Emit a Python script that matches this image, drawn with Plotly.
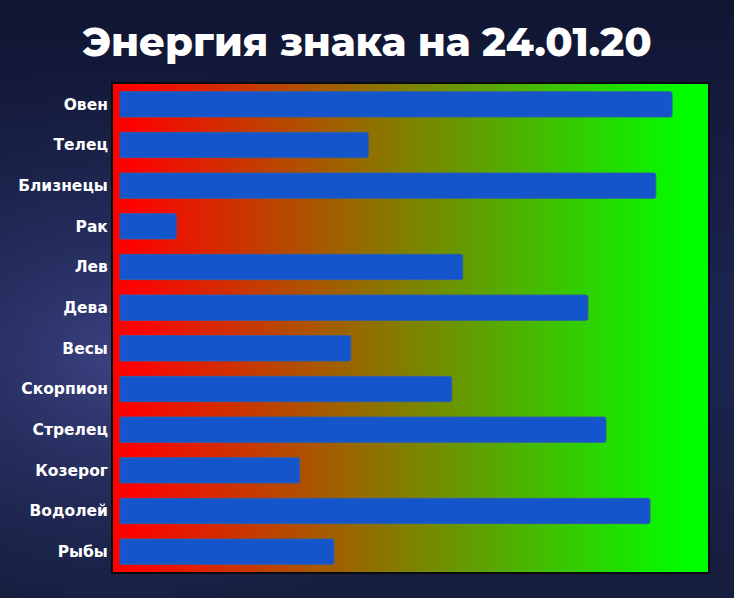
import base64
import plotly.graph_objects as go

# Data
signs = ["Овен", "Телец", "Близнецы", "Рак", "Лев", "Дева", "Весы",
         "Скорпион", "Стрелец", "Козерог", "Водолей", "Рыбы"]
energy = [95.2, 42.8, 92.4, 9.7, 59.1, 80.7, 39.8, 57.2, 83.8, 31.0, 91.4, 36.9]
title_text = "Энергия знака на 24.01.20"

# background gradient (decoration): two stops, left and right
grad_x = [1.0, 98.0]
grad_z = [[0, 1] for _ in signs]

bg_svg = """<svg xmlns='http://www.w3.org/2000/svg' width='734' height='598' preserveAspectRatio='none'>
<defs>
<radialGradient id='g1' cx='0.15' cy='0.55' r='0.45'>
<stop offset='0' stop-color='#3f4588' stop-opacity='0.9'/>
<stop offset='1' stop-color='#1a2246' stop-opacity='0'/>
</radialGradient>
<linearGradient id='g0' x1='0' y1='0' x2='0' y2='1'>
<stop offset='0' stop-color='#0f1530'/>
<stop offset='0.5' stop-color='#1c2552'/>
<stop offset='1' stop-color='#141b38'/>
</linearGradient>
</defs>
<rect width='734' height='598' fill='url(#g0)'/>
<rect width='734' height='598' fill='url(#g1)'/>
</svg>"""
bg_uri = "data:image/svg+xml;base64," + base64.b64encode(bg_svg.encode()).decode()

fig = go.Figure()
fig.add_trace(go.Heatmap(
    x=grad_x, y=signs, z=grad_z, zsmooth="best",
    colorscale=[[0, "#ff0000"], [0.5, "#808000"], [1, "#00ff00"]],
    showscale=False, hoverinfo="skip",
))
fig.add_trace(go.Bar(
    x=energy, y=signs, orientation="h", width=0.62,
    marker=dict(color="#1555cc", line=dict(color="#2d5fae", width=1)),
    showlegend=False,
))

fig.update_layout(
    width=734, height=598,
    margin=dict(l=113, r=26, t=84, b=26),
    paper_bgcolor="#18204a",
    plot_bgcolor="rgba(0,0,0,0)",
    barcornerradius=2,
    title=dict(text=title_text, x=0.5, xanchor="center", y=0.93, yanchor="middle",
               font=dict(family="Montserrat, Inter, Open Sans, sans-serif", size=40,
                         color="white", weight=800)),
    images=[dict(source=bg_uri, xref="paper", yref="paper", x=-0.2, y=1.2,
                 sizex=1.4, sizey=1.4, xanchor="left", yanchor="top",
                 sizing="stretch", layer="below")],
)
fig.update_xaxes(range=[-1.2, 101.4], showgrid=False, zeroline=False,
                 showticklabels=False, ticks="", showline=True, mirror=True,
                 linecolor="#0a0a0a", linewidth=2)
fig.update_yaxes(autorange=False, range=[11.5, -0.5], showgrid=False, zeroline=False,
                 ticks="", showline=True, mirror=True, linecolor="#0a0a0a", linewidth=2,
                 tickfont=dict(family="DejaVu Sans, sans-serif", size=15.5,
                               color="white", weight="bold"))

fig.write_html("out.html", config={"displayModeBar": False},
               post_script="document.body.style.margin='0';document.body.style.overflow='hidden';")
